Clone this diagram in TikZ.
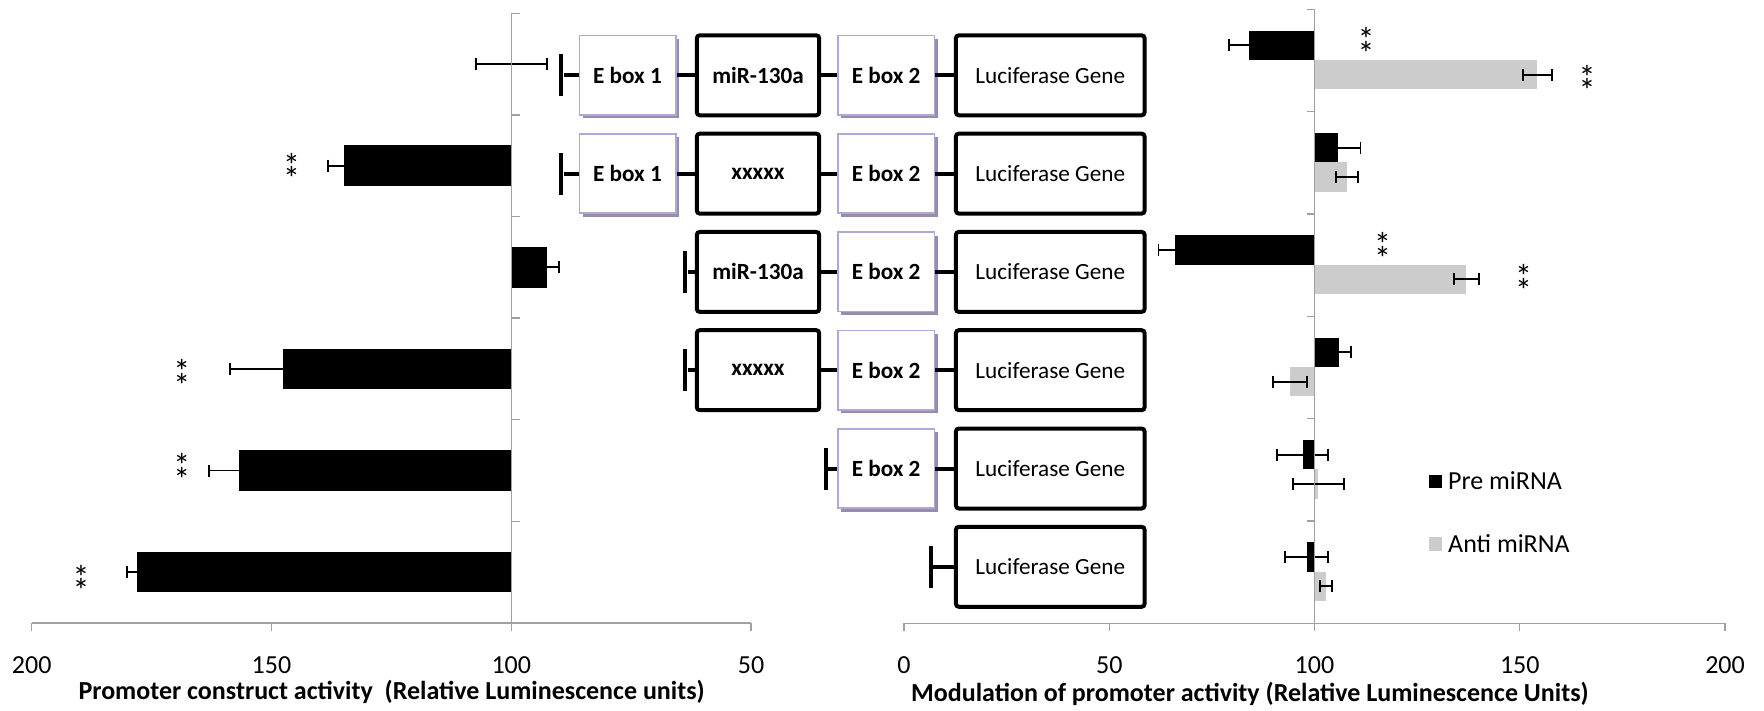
\documentclass[tikz,border=0pt]{standalone}
\usepackage{fontspec}
\setmainfont{Carlito}
\usetikzlibrary{shadows}
\definecolor{axgray}{RGB}{160,160,160}
\definecolor{antigray}{RGB}{204,204,204}
\definecolor{eline}{RGB}{181,166,212}
\definecolor{eshade}{RGB}{152,140,172}

\begin{document}
\begin{tikzpicture}[x=1pt, y=-1pt,
                    gbox/.style={draw, line width=4pt, rounded corners=3pt, fill=white, inner sep=0pt, minimum width=122.4pt, minimum height=80pt, font=\fontsize{23.2}{28}\selectfont\bfseries},
                    lucbox/.style={gbox, minimum width=188.7pt, font=\fontsize{23.2}{28}\selectfont},
                    ebox/.style={draw=eline, line width=1.5pt, fill=white, inner sep=0pt, minimum width=96.5pt, minimum height=79.3pt, font=\fontsize{23.2}{28}\selectfont\bfseries, drop shadow={shadow xshift=3.5pt, shadow yshift=-3.5pt, fill=eshade, opacity=1}},
                    prom/.style={fill=black, inner sep=0pt, minimum width=4pt, minimum height=42pt},
                    lnk/.style={line width=4pt},
                    axline/.style={draw=axgray, line width=1.3pt},
                    errb/.style={line width=1.8pt},
                    num/.style={inner sep=0pt, font=\fontsize{26}{30}\selectfont},
                    ttl/.style={inner sep=0pt, anchor=west, font=\fontsize{26}{30}\selectfont\bfseries},
                    sig/.style={inner sep=0pt, align=center, font=\fontsize{34}{34}\selectfont}]
\useasboundingbox (0,0) rectangle (1764,711);

% left chart: construct activity
\foreach \v/\er [count=\i] in {99.9/7.4, 134.8/3.4, 92.5/2.4, 147.7/10.9, 156.7/6.3, 178.1/2.1}
{
    \pgfmathsetmacro\xe{511.3-(\v-100)*4.796}
    \pgfmathsetmacro\ee{\er*4.796}
    \pgfmathsetmacro\yc{13.3+101.6*(\i-0.5)}
    \fill (511.3,\yc-20.3) rectangle (\xe,\yc+20.3);
    \draw[errb] (\xe-\ee,\yc-6) -- (\xe-\ee,\yc+6) (\xe-\ee,\yc) -- (\xe+\ee,\yc) (\xe+\ee,\yc-6) -- (\xe+\ee,\yc+6);
}
\draw[axline] (31.7,623) -- (751.1,623) (511.3,13.3) -- (511.3,623);
\foreach \v in {200,150,100,50}
{
    \pgfmathsetmacro\xx{511.3-(\v-100)*4.796}
    \draw[axline] (\xx,623) -- (\xx,630.5);
    \node[num] (lv\v) at (\xx,665) {\v};
}
\foreach \k in {0,...,5}
    \draw[axline] (511.3,13.3+101.6*\k) -- (519.5,13.3+101.6*\k);
\node[ttl] (lttl) at (78.3,692) {Promoter construct activity\ \ (Relative Luminescence units)};

% right chart: modulation by pre / anti miRNA
\foreach \vpre/\epre/\vanti/\eanti [count=\i] in {84/4.8/154.3/3.6, 105.8/5.4/107.9/2.7, 66/4/137/3.1, 106/2.9/94/4.1, 97.1/6.2/100.9/6.2, 98.1/5.2/102.8/1.5}
{
    \pgfmathsetmacro\xpre{904+4.105*\vpre}
    \pgfmathsetmacro\xanti{904+4.105*\vanti}
    \pgfmathsetmacro\dpre{4.105*\epre}
    \pgfmathsetmacro\danti{4.105*\eanti}
    \pgfmathsetmacro\yc{60+102.33*(\i-1)}
    \fill (1314.5,\yc-29.3) rectangle (\xpre,\yc);
    \fill[antigray] (1314.5,\yc) rectangle (\xanti,\yc+29.3);
    \draw[errb] (\xpre-\dpre,\yc-20.65) -- (\xpre-\dpre,\yc-8.65) (\xpre-\dpre,\yc-14.65) -- (\xpre+\dpre,\yc-14.65) (\xpre+\dpre,\yc-20.65) -- (\xpre+\dpre,\yc-8.65);
    \draw[errb] (\xanti-\danti,\yc+8.65) -- (\xanti-\danti,\yc+20.65) (\xanti-\danti,\yc+14.65) -- (\xanti+\danti,\yc+14.65) (\xanti+\danti,\yc+8.65) -- (\xanti+\danti,\yc+20.65);
}
\draw[axline] (904,623.3) -- (1725,623.3) (1314.5,9.3) -- (1314.5,623.3);
\foreach \v in {0,50,...,200}
{
    \pgfmathsetmacro\xx{904+4.105*\v}
    \draw[axline] (\xx,623.3) -- (\xx,630.8);
    \node[num] (rv\v) at (\xx,665) {\v};
}
\foreach \k in {0,...,5}
    \draw[axline] (1307,9.3+102.33*\k) -- (1314.5,9.3+102.33*\k);
\fill (1428.8,474.5) rectangle (1442,488);
\node[num, anchor=west] (pre) at (1448,481) {Pre miRNA};
\fill[antigray] (1428.8,537) rectangle (1442,550.5);
\node[num, anchor=west] (anti) at (1448,543.5) {Anti miRNA};
\node[ttl] (rttl) at (911,694) {Modulation of promoter activity (Relative Luminescence Units)};

% significance marks, two stars each
\foreach \x/\y [count=\n] in {291.6/162.5, 181.8/369, 181.8/463, 81/574.5, 1366/36.7, 1587/74.3, 1382.5/242, 1523.5/273.8}
    \node[sig] (st\n) at (\x,\y+9.5) {*\\[-20.5pt]*};

% constructs
\node[prom] (p1) at (561.3,75.3) {};
\node[ebox] (ea1) at (627.5,75.3) {E box 1};
\node[gbox] (mi1) at (758,75.3) {miR-130a};
\node[ebox] (eb1) at (886.1,75.3) {E box 2};
\node[lucbox] (lu1) at (1050.25,75.3) {Luciferase Gene};
\draw[lnk] (p1) -- (ea1) (ea1) -- (mi1) (mi1) -- (eb1) (eb1) -- (lu1);

\node[prom] (p2) at (561.3,173.6) {};
\node[ebox] (ea2) at (627.5,173.6) {E box 1};
\node[gbox] (mi2) at (758,173.6) {xxxxx};
\node[ebox] (eb2) at (886.1,173.6) {E box 2};
\node[lucbox] (lu2) at (1050.25,173.6) {Luciferase Gene};
\draw[lnk] (p2) -- (ea2) (ea2) -- (mi2) (mi2) -- (eb2) (eb2) -- (lu2);

\node[prom] (p3) at (685.4,271.9) {};
\node[gbox] (mi3) at (758,271.9) {miR-130a};
\node[ebox] (eb3) at (886.1,271.9) {E box 2};
\node[lucbox] (lu3) at (1050.25,271.9) {Luciferase Gene};
\draw[lnk] (p3) -- (mi3) (mi3) -- (eb3) (eb3) -- (lu3);

\node[prom] (p4) at (685.4,370.2) {};
\node[gbox] (mi4) at (758,370.2) {xxxxx};
\node[ebox] (eb4) at (886.1,370.2) {E box 2};
\node[lucbox] (lu4) at (1050.25,370.2) {Luciferase Gene};
\draw[lnk] (p4) -- (mi4) (mi4) -- (eb4) (eb4) -- (lu4);

\node[prom] (p5) at (826,468.5) {};
\node[ebox] (eb5) at (886.1,468.5) {E box 2};
\node[lucbox] (lu5) at (1050.25,468.5) {Luciferase Gene};
\draw[lnk] (p5) -- (eb5) (eb5) -- (lu5);

\node[prom] (p6) at (931.2,566.8) {};
\node[lucbox] (lu6) at (1050.25,566.8) {Luciferase Gene};
\draw[lnk] (p6) -- (lu6);
\end{tikzpicture}
\end{document}
